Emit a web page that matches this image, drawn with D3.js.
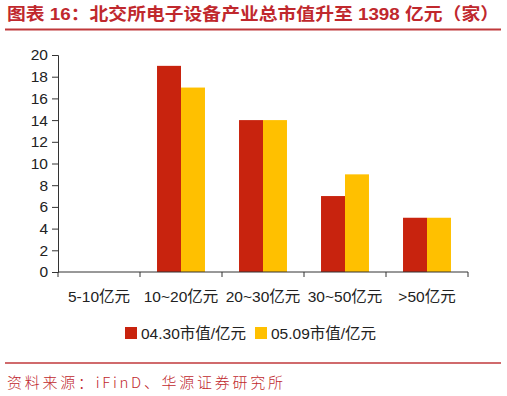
<!DOCTYPE html>
<html>
<head>
<meta charset="utf-8">
<script src="https://cdn.jsdelivr.net/npm/d3@7"></script>
<style>
  body { margin: 0; background: #fff; }
  text { font-family: "Liberation Sans", Arial, "Noto Sans CJK SC", sans-serif; }
</style>
</head>
<body>
<div id="chart"></div>
<script>
// data
const categories = ['5-10亿元', '10~20亿元', '20~30亿元', '30~50亿元', '>50亿元']
const seriesNames = ['04.30市值/亿元', '05.09市值/亿元']
const values0430 = [0, 19, 14, 7, 5]
const values0509 = [0, 17, 14, 9, 5]
const yTicks = [0, 2, 4, 6, 8, 10, 12, 14, 16, 18, 20]
const colors = ['#c8230e', '#ffc000']

const W = 507, H = 396
const svg = d3.select('#chart').append('svg')
    .attr('width', W)
    .attr('height', H)

// title + rule
svg.append('text')
    .attr('x', 7).attr('y', 20)
    .attr('fill', '#c0282d')
    .attr('font-size', 17)
    .attr('font-weight', 'bold')
    .attr('textLength', 492)
    .attr('lengthAdjust', 'spacingAndGlyphs')
    .text('图表 16：北交所电子设备产业总市值升至 1398 亿元（家）')
svg.append('line')
    .attr('x1', 5).attr('x2', 501).attr('y1', 29.5).attr('y2', 29.5)
    .attr('stroke', '#c0393b').attr('stroke-width', 2)

// scales
let x0 = d3.scaleBand().domain(categories).range([58, 468]).padding(0)
let x1 = d3.scaleBand().domain(seriesNames).range([0, x0.bandwidth()])
    .paddingInner(0).paddingOuter(0.71)
let y = d3.scaleLinear().domain([0, 20]).range([272, 55])

let rows = categories.map((c, i) => ({ cat: c, vals: [values0430[i], values0509[i]] }))

let g = svg.append('g')
g.selectAll('.grp')
    .data(rows)
    .enter().append('g')
    .attr('transform', d => 'translate(' + x0(d.cat) + ',0)')
    .selectAll('rect')
    .data(d => d.vals.map((v, j) => ({ name: seriesNames[j], v: v, j: j })))
    .enter().append('rect')
    .attr('x', d => x1(d.name))
    .attr('width', x1.bandwidth())
    .attr('y', d => y(d.v))
    .attr('height', d => y(0) - y(d.v))
    .attr('fill', d => colors[d.j])

// y axis
let yAxis = svg.append('g')
    .attr('transform', 'translate(58,0)')
    .call(d3.axisLeft(y).tickValues(yTicks).tickSize(6).tickPadding(4))
yAxis.select('.domain').attr('stroke', '#333')
yAxis.selectAll('.tick line').attr('stroke', '#333')
yAxis.selectAll('.tick text').attr('font-size', 15.5).attr('fill', '#222')

// x axis: ticks on category boundaries
let xAxis = svg.append('g').attr('transform', 'translate(0,272)')
xAxis.append('line')
    .attr('x1', 58).attr('x2', 468)
    .attr('stroke', '#333')
let bounds = categories.map(c => x0(c)).concat([x0.range()[1]])
xAxis.selectAll('.xt')
    .data(bounds)
    .enter().append('line')
    .attr('x1', d => d).attr('x2', d => d)
    .attr('y1', 0).attr('y2', 5)
    .attr('stroke', '#333')
xAxis.selectAll('.xl')
    .data(categories)
    .enter().append('text')
    .attr('x', d => x0(d) + x0.bandwidth() / 2)
    .attr('y', 29.5)
    .attr('text-anchor', 'middle')
    .attr('font-size', 15.5)
    .attr('fill', '#222')
    .text(d => d)

// legend
let legendX = [125, 255]
let leg = svg.append('g')
leg.selectAll('rect')
    .data(seriesNames)
    .enter().append('rect')
    .attr('x', (d, i) => legendX[i])
    .attr('y', 327)
    .attr('width', 12).attr('height', 12)
    .attr('fill', (d, i) => colors[i])
leg.selectAll('text')
    .data(seriesNames)
    .enter().append('text')
    .attr('x', (d, i) => legendX[i] + 16)
    .attr('y', 339)
    .attr('font-size', 15.5)
    .attr('fill', '#222')
    .text(d => d)

// source
svg.append('line')
    .attr('x1', 5).attr('x2', 501).attr('y1', 363).attr('y2', 363)
    .attr('stroke', '#c0393b').attr('stroke-width', 1.5)
svg.append('text')
    .attr('x', 7).attr('y', 388)
    .attr('fill', '#c0282d')
    .attr('font-size', 15)
    .attr('textLength', 276)
    .attr('lengthAdjust', 'spacing')
    .style('font-family', '"Noto Sans CJK SC", sans-serif')
    .style('font-weight', 300)
    .text('资料来源：iFinD、华源证券研究所')
</script>
</body>
</html>
